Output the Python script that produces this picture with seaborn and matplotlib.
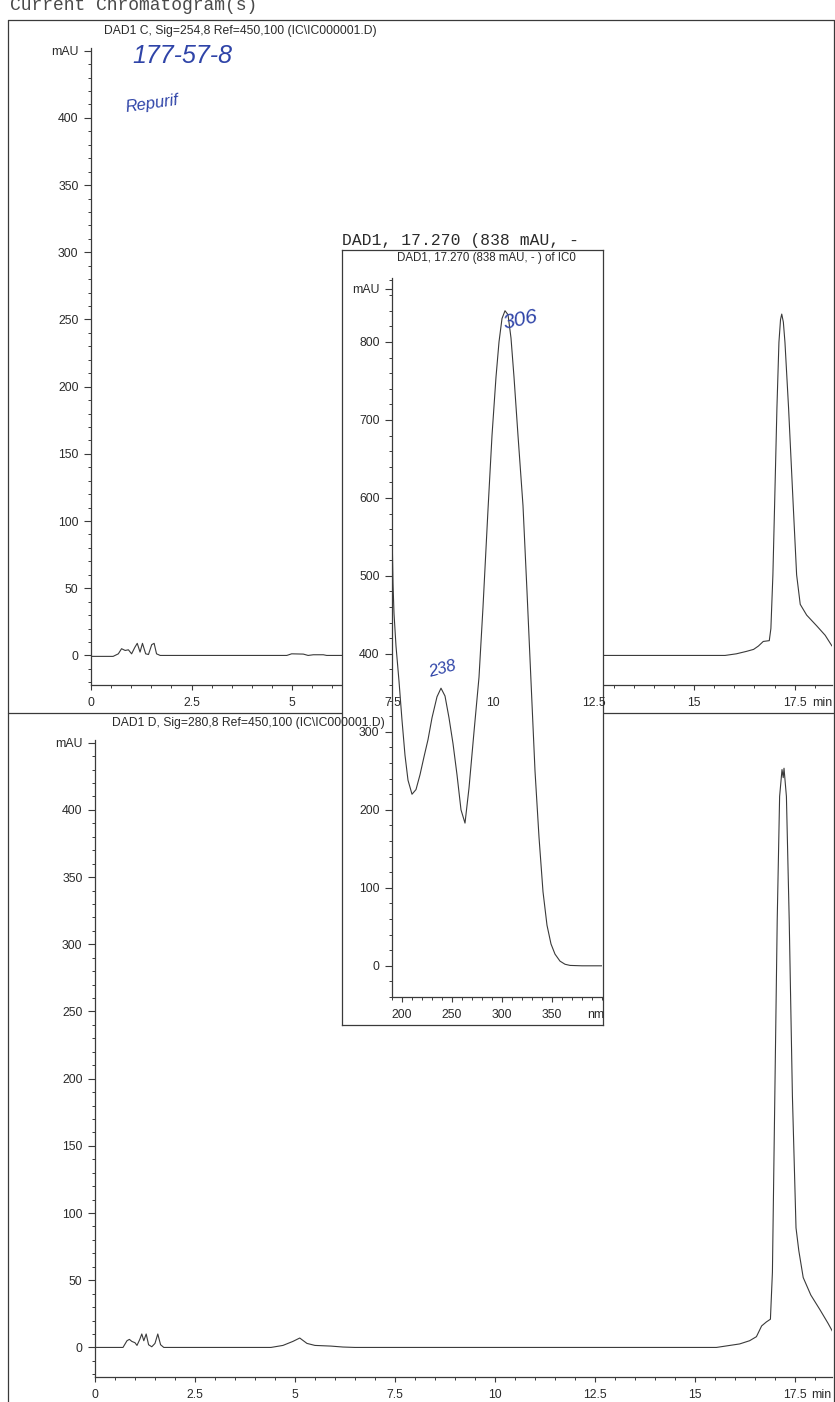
import pandas as pd
import matplotlib.pyplot as plt
import seaborn as sns
from matplotlib.lines import Line2D
from matplotlib.ticker import MultipleLocator

# DAD1 C, Sig=254,8 chromatogram (min, mAU)
time_254 = [0.0, 0.55, 0.68, 0.76, 0.85, 0.93, 1.01, 1.09, 1.15, 1.22, 1.28, 1.36, 1.43,
            1.51, 1.57, 1.63, 1.72, 4.87, 4.99, 5.28, 5.40, 5.53, 5.78, 5.86, 15.77, 16.05,
            16.30, 16.48, 16.60, 16.72, 16.87, 16.91, 16.96, 17.00, 17.06, 17.11, 17.15,
            17.18, 17.22, 17.26, 17.35, 17.47, 17.55, 17.64, 17.80, 18.05, 18.26, 18.43]
mau_254 = [-0.7, -0.7, 1.2, 5, 3.7, 4.2, 1.2, 6, 9, 2.5, 9, 1.2, 0.7,
           8, 9, 1.2, 0, 0, 1.2, 1, 0, 0.5, 0.5, 0, 0, 1.2,
           3, 4.5, 7, 10.4, 11, 20, 60, 109, 184, 233, 250,
           254, 248, 233, 184, 109, 60, 38, 30, 22, 15, 7]

# DAD1 D, Sig=280,8 chromatogram (min, mAU)
time_280 = [0.0, 0.70, 0.80, 0.86, 0.92, 1.00, 1.05, 1.12, 1.17, 1.22, 1.28, 1.34, 1.42,
            1.50, 1.57, 1.64, 1.72, 4.40, 4.70, 4.95, 5.12, 5.30, 5.50, 5.90, 6.20, 6.50,
            15.54, 16.12, 16.37, 16.54, 16.67, 16.79, 16.89, 16.94, 17.00, 17.06, 17.12,
            17.18, 17.21, 17.23, 17.29, 17.36, 17.44, 17.53, 17.60, 17.71, 17.90, 18.13,
            18.33, 18.46]
mau_280 = [0, 0, 5, 6, 4.5, 3.5, 1.5, 6, 10, 5, 10, 2, 0.5,
           3, 10, 2, 0, 0, 1.5, 4.5, 7, 3, 1.5, 1, 0.3, 0,
           0, 2.6, 5, 8, 16, 19, 21, 56, 187, 318, 410,
           430, 424, 431, 410, 318, 187, 89, 72, 52, 39, 28,
           18, 11]

# UV spectrum at 17.270 min (nm, mAU)
spec_nm = [190, 191, 192, 194, 197, 200, 203, 206, 210, 214, 218, 222, 226, 230, 235,
           239, 243, 247, 251, 255, 259, 263, 267, 272, 277, 281, 286, 290, 294, 297,
           300, 303, 306, 309, 312, 316, 321, 325, 329, 333, 337, 341, 345, 349, 353,
           358, 363, 368, 380, 400]
spec_mau = [560, 490, 452, 410, 365, 315, 270, 238, 220, 226, 245, 268, 290, 318, 345,
            356, 346, 318, 285, 245, 200, 183, 228, 300, 370, 460, 585, 680, 755, 800,
            830, 840, 835, 805, 755, 680, 590, 480, 365, 250, 165, 95, 52, 28, 15,
            6, 2, 0.5, 0, 0]

time_ticks = [0, 2.5, 5, 7.5, 10, 12.5, 15, 17.5]
time_labels = ["0", "2.5", "5", "7.5", "10", "12.5", "15", "17.5"]
mau_ticks = [0, 50, 100, 150, 200, 250, 300, 350, 400]
nm_ticks = [200, 250, 300, 350]
spec_ticks = [0, 100, 200, 300, 400, 500, 600, 700, 800]

INK = "#3a3a3a"
PEN = "#2f44a8"
W, H = 835, 1402


def box(x0, y0, x1, y1):
    # pixel box (origin top-left) -> figure fraction rect
    return [x0 / W, 1 - y1 / H, (x1 - x0) / W, (y1 - y0) / H]


sns.set_theme(style="ticks")
plt.rcParams["font.family"] = ["Liberation Sans", "DejaVu Sans"]
plt.rcParams["text.color"] = "#2a2a2a"

fig = plt.figure(figsize=(W / 100, H / 100), dpi=100)
fig.patch.set_facecolor("white")


def style_ticks(ax):
    ax.tick_params(axis="x", which="major", length=3.6, width=0.8, color=INK,
                   labelsize=8.8, labelcolor="#2a2a2a", pad=5)
    ax.tick_params(axis="y", which="major", length=5, width=0.8, color=INK,
                   labelsize=8.8, labelcolor="#2a2a2a", pad=4)
    ax.tick_params(which="minor", length=2.2, width=0.7, color=INK)
    for s in ["left", "bottom"]:
        ax.spines[s].set_color(INK)
        ax.spines[s].set_linewidth(0.9)
    ax.set_xlabel("")
    ax.set_ylabel("")
    ax.patch.set_visible(False)


def chrom_axes(rect, times, values, show_xlabels):
    df = pd.DataFrame({"time": times, "mAU": values})
    ax = fig.add_axes(rect, zorder=1)
    sns.lineplot(data=df, x="time", y="mAU", ax=ax, color=INK, linewidth=0.8,
                 estimator=None, sort=False)
    ax.set_xlim(0, 18.43)
    ax.set_ylim(-22, 452)
    sns.despine(ax=ax)
    ax.set_xticks(time_ticks)
    ax.set_xticklabels(time_labels)
    ax.xaxis.set_minor_locator(MultipleLocator(0.5))
    ax.set_yticks(mau_ticks + [450])
    ax.set_yticklabels([str(v) for v in mau_ticks] + ["mAU"])
    ax.yaxis.set_minor_locator(MultipleLocator(10))
    style_ticks(ax)
    if show_xlabels:
        ax.text(18.16, -0.019, "min", transform=ax.get_xaxis_transform(),
                ha="center", va="top", fontsize=8.8)
    else:
        ax.tick_params(axis="x", labelbottom=False)
    return ax


top_rect = box(91, 48, 832, 685)
ax_top = chrom_axes(top_rect, time_254, mau_254, show_xlabels=False)
ax_bot = chrom_axes(box(95, 740, 832, 1377), time_280, mau_280, show_xlabels=True)

# page frame and separator between the two signals
for xs, ys in [([8, 8], [20, H]), ([8, 833.5], [20, 20]), ([833.5, 833.5], [20, H]),
               ([8, 833.5], [713, 713])]:
    fig.add_artist(Line2D([x / W for x in xs], [1 - y / H for y in ys],
                          transform=fig.transFigure, color=INK, lw=0.9, zorder=1.5))

# spectrum window pasted over the chromatograms
ax_box = fig.add_axes(box(342, 250, 603, 1025), zorder=3)
ax_box.set_facecolor("white")
ax_box.set_xticks([])
ax_box.set_yticks([])
for s in ax_box.spines.values():
    s.set_color(INK)
    s.set_linewidth(0.9)
ax_box.text(0.21, 0.9897, "DAD1, 17.270 (838 mAU, - ) of IC0", transform=ax_box.transAxes,
            ha="left", va="center", fontsize=8.3, clip_on=True)

ax_in = fig.add_axes(box(392, 278, 602, 997), zorder=4)
spec_df = pd.DataFrame({"nm": spec_nm, "mAU": spec_mau})
sns.lineplot(data=spec_df, x="nm", y="mAU", ax=ax_in, color=INK, linewidth=0.8,
             estimator=None, sort=False)
ax_in.set_xlim(190, 400)
ax_in.set_ylim(-40, 882)
sns.despine(ax=ax_in)
ax_in.set_xticks(nm_ticks)
ax_in.xaxis.set_minor_locator(MultipleLocator(10))
ax_in.set_yticks(spec_ticks + [868])
ax_in.set_yticklabels([str(v) for v in spec_ticks] + ["mAU"])
ax_in.yaxis.set_minor_locator(MultipleLocator(20))
style_ticks(ax_in)
ax_in.text(394, -0.017, "nm", transform=ax_in.get_xaxis_transform(),
           ha="center", va="top", fontsize=8.8)

# time labels of the upper signal sit on top of the pasted window
ax_lbl = fig.add_axes(top_rect, zorder=5)
ax_lbl.set_xlim(0, 18.43)
ax_lbl.set_ylim(0, 1)
ax_lbl.patch.set_visible(False)
for s in ax_lbl.spines.values():
    s.set_visible(False)
ax_lbl.set_xticks(time_ticks)
ax_lbl.set_xticklabels(time_labels)
ax_lbl.set_yticks([])
ax_lbl.tick_params(axis="x", length=0, pad=8.6, labelsize=8.8, labelcolor="#2a2a2a")
ax_lbl.text(18.18, -0.019, "min", transform=ax_lbl.get_xaxis_transform(),
            ha="center", va="top", fontsize=8.8)

# printed headers
fig.text(10 / W, 1 - 6 / H, "Current Chromatogram(s)", family="Liberation Mono",
         fontsize=13, color="#4a4a4a", ha="left", va="center", zorder=10)
fig.text(240 / W, 1 - 31 / H, "DAD1 C, Sig=254,8 Ref=450,100 (IC\\IC000001.D)",
         fontsize=8.7, ha="center", va="center", zorder=10)
fig.text(248 / W, 1 - 723 / H, "DAD1 D, Sig=280,8 Ref=450,100 (IC\\IC000001.D)",
         fontsize=8.7, ha="center", va="center", zorder=10)
fig.text(342 / W, 1 - 240 / H, "DAD1, 17.270 (838 mAU, -", family="Liberation Mono",
         fontsize=11.8, ha="left", va="center", zorder=10)

# handwritten notes
fig.text(182 / W, 1 - 56 / H, "177-57-8", color=PEN, fontsize=18, style="italic",
         ha="center", va="center", zorder=10)
fig.text(152 / W, 1 - 104 / H, "Repurif", color=PEN, fontsize=12, style="italic",
         rotation=8, ha="center", va="center", zorder=10)
ax_in.text(318, 828, "306", color=PEN, fontsize=15, style="italic", rotation=12,
           ha="center", va="center")
ax_in.text(240, 380, "238", color=PEN, fontsize=12, style="italic", rotation=15,
           ha="center", va="center")

fig.savefig("out.png", dpi=100, facecolor="white")
